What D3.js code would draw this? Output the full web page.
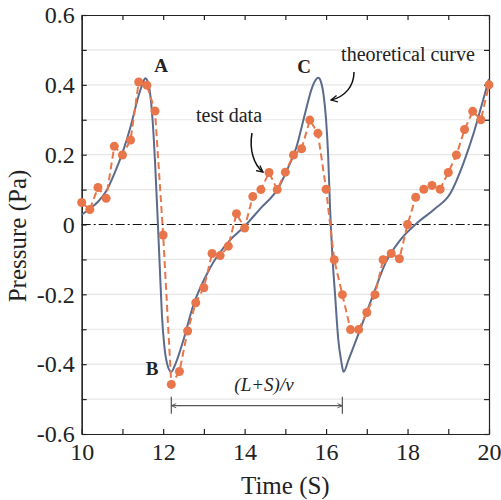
<html>
<head>
    <script src="https://cdn.jsdelivr.net/npm/d3@7"></script>
    <style>
        body { margin: 0; background: #fff; }
    </style>
</head>
<body>
    <script>
        // test data, sampled every 0.2 s
        var testTime = [10, 10.2, 10.4, 10.6, 10.8, 11, 11.2, 11.4, 11.6, 11.8,
            12, 12.2, 12.4, 12.6, 12.8, 13, 13.2, 13.4, 13.6, 13.8,
            14, 14.2, 14.4, 14.6, 14.8, 15, 15.2, 15.4, 15.6, 15.8,
            16, 16.2, 16.4, 16.6, 16.8, 17, 17.2, 17.4, 17.6, 17.8,
            18, 18.2, 18.4, 18.6, 18.8, 19, 19.2, 19.4, 19.6, 19.8, 20];
        var testPressure = [0.063, 0.043, 0.106, 0.075, 0.224, 0.199, 0.242, 0.408, 0.399, 0.325,
            -0.030, -0.458, -0.421, -0.305, -0.224, -0.181, -0.083, -0.089, -0.062, 0.031,
            -0.010, 0.080, 0.100, 0.149, 0.100, 0.150, 0.199, 0.217, 0.299, 0.261,
            0.101, -0.101, -0.201, -0.301, -0.301, -0.252, -0.201, -0.101, -0.083, -0.098,
            0.000, 0.078, 0.101, 0.112, 0.101, 0.149, 0.199, 0.272, 0.324, 0.300, 0.400];

        // theoretical curve
        var theoryTime = [10, 10.2, 10.4, 10.6, 10.8, 11, 11.2, 11.4, 11.5, 11.56, 11.62, 11.68, 11.74, 11.8, 11.86, 11.92, 11.97, 12.03, 12.1,
            12.2, 12.3, 12.5, 12.73, 13.15, 13.64, 14, 14.38, 14.83, 15.03, 15.28, 15.49, 15.65, 15.75,
            15.81, 15.87, 15.94, 16, 16.05, 16.1, 16.16, 16.22, 16.3, 16.37,
            16.43, 16.55, 16.8, 17.17, 17.46, 17.83, 18.24, 18.65, 19.06, 19.38, 19.63, 19.84, 20];
        var theoryPressure = [0.028, 0.045, 0.065, 0.095, 0.145, 0.205, 0.28, 0.37, 0.405, 0.419, 0.41, 0.375, 0.30, 0.18, 0.03, -0.13, -0.26, -0.35, -0.40,
            -0.422, -0.40, -0.33, -0.235, -0.125, -0.045, -0.005, 0.045, 0.105, 0.153, 0.225, 0.321, 0.39, 0.415,
            0.420, 0.41, 0.37, 0.30, 0.20, 0.04, -0.10, -0.2, -0.33, -0.39,
            -0.422, -0.388, -0.312, -0.197, -0.11, -0.043, 0.005, 0.043, 0.091, 0.178, 0.264, 0.35, 0.417];

        var xMajor = [10, 12, 14, 16, 18, 20];
        var xMinor = [11, 13, 15, 17, 19];
        var yMajor = [-0.6, -0.4, -0.2, 0, 0.2, 0.4, 0.6];
        var yMinor = [-0.5, -0.3, -0.1, 0.1, 0.3, 0.5];
        var yLabels = ["-0.6", "-0.4", "-0.2", "0", "0.2", "0.4", "0.6"];

        var serif = "'Liberation Serif', 'Times New Roman', serif";
        var width = 501, height = 500;
        var plotLeft = 81.7, plotRight = 489, plotTop = 15, plotBottom = 434;

        var x = d3.scaleLinear().domain([10, 20]).range([plotLeft, plotRight]);
        var y = d3.scaleLinear().domain([-0.6, 0.6]).range([plotBottom, plotTop]);

        var svg = d3.select("body").append("svg").attr("width", width).attr("height", height)
            .style("font-family", serif);

        // grid lines
        svg.append("g").selectAll("line").data(yMajor.concat(yMinor).filter(function(d) { return d !== 0 && Math.abs(d) < 0.6; }))
            .enter().append("line")
            .attr("x1", plotLeft).attr("x2", plotRight)
            .attr("y1", function(d) { return y(d); }).attr("y2", function(d) { return y(d); })
            .attr("stroke", "#e6e6e6").attr("stroke-width", 1.2);

        // zero line
        svg.append("line")
            .attr("x1", plotLeft).attr("x2", plotRight).attr("y1", y(0)).attr("y2", y(0))
            .attr("stroke", "#111").attr("stroke-width", 1).attr("stroke-dasharray", "9,3,2,3");

        // axes (ticks inward)
        function styleAxis(g) {
            g.selectAll("path").attr("stroke", "#222").attr("stroke-width", 1.2);
            g.selectAll("line").attr("stroke", "#222").attr("stroke-width", 1.2);
            g.selectAll("text").attr("fill", "#222").attr("font-size", 24).attr("font-family", serif);
        }
        svg.append("g").attr("transform", "translate(0," + plotBottom + ")")
            .call(d3.axisBottom(x).tickValues(xMajor).tickFormat(d3.format("d")).tickSizeInner(-5).tickSizeOuter(0).tickPadding(9))
            .call(styleAxis);
        svg.append("g").attr("transform", "translate(0," + plotTop + ")")
            .call(d3.axisTop(x).tickValues(xMajor.concat(xMinor)).tickFormat("").tickSizeInner(-5).tickSizeOuter(0))
            .call(styleAxis);
        svg.append("g").attr("transform", "translate(0," + plotBottom + ")")
            .call(d3.axisBottom(x).tickValues(xMinor).tickFormat("").tickSizeInner(-5).tickSizeOuter(0))
            .call(styleAxis);
        svg.append("g").attr("transform", "translate(" + plotLeft + ",0)")
            .call(d3.axisLeft(y).tickValues(yMajor).tickFormat(function(d, i) { return yLabels[i]; }).tickSizeInner(-5).tickSizeOuter(0).tickPadding(7))
            .call(styleAxis);
        svg.append("g").attr("transform", "translate(" + plotLeft + ",0)")
            .call(d3.axisLeft(y).tickValues(yMinor).tickFormat("").tickSizeInner(-5).tickSizeOuter(0))
            .call(styleAxis);
        svg.append("g").attr("transform", "translate(" + plotRight + ",0)")
            .call(d3.axisRight(y).tickValues(yMajor.concat(yMinor)).tickFormat("").tickSizeInner(-5).tickSizeOuter(0))
            .call(styleAxis);

        // theoretical curve
        var theory = theoryTime.map(function(t, i) { return [t, theoryPressure[i]]; });
        svg.append("path").datum(theory)
            .attr("d", d3.line().x(function(d) { return x(d[0]); }).y(function(d) { return y(d[1]); }).curve(d3.curveMonotoneX))
            .attr("fill", "none").attr("stroke", "#5b6b8c").attr("stroke-width", 2);

        // test data
        var test = testTime.map(function(t, i) { return [t, testPressure[i]]; });
        svg.append("path").datum(test)
            .attr("d", d3.line().x(function(d) { return x(d[0]); }).y(function(d) { return y(d[1]); }))
            .attr("fill", "none").attr("stroke", "#e8764a").attr("stroke-width", 2).attr("stroke-dasharray", "7,4");
        svg.append("g").selectAll("circle").data(test).enter().append("circle")
            .attr("cx", function(d) { return x(d[0]); })
            .attr("cy", function(d) { return y(d[1]); })
            .attr("r", 4.5).attr("fill", "#e8764a");

        // arrow markers
        var defs = svg.append("defs");
        defs.append("marker").attr("id", "head").attr("viewBox", "0 0 10 10").attr("refX", 9).attr("refY", 5)
            .attr("markerWidth", 8).attr("markerHeight", 8).attr("orient", "auto-start-reverse").attr("markerUnits", "userSpaceOnUse")
            .append("path").attr("d", "M1,1 L9,5 L1,9").attr("fill", "none").attr("stroke", "#111").attr("stroke-width", 1.6);
        defs.append("marker").attr("id", "dim").attr("viewBox", "0 0 10 10").attr("refX", 9).attr("refY", 5)
            .attr("markerWidth", 7).attr("markerHeight", 7).attr("orient", "auto-start-reverse").attr("markerUnits", "userSpaceOnUse")
            .append("path").attr("d", "M2,2 L9,5 L2,8").attr("fill", "none").attr("stroke", "#555").attr("stroke-width", 1.3);

        // annotation arrows
        svg.append("path").attr("d", "M354,72 C354,86 345,97 331,100")
            .attr("fill", "none").attr("stroke", "#111").attr("stroke-width", 1.5).attr("marker-end", "url(#head)");
        svg.append("path").attr("d", "M252,133 C249,150 254,165 263,172")
            .attr("fill", "none").attr("stroke", "#111").attr("stroke-width", 1.5).attr("marker-end", "url(#head)");

        // (L+S)/v dimension
        var dimY = 405.7;
        svg.append("line").attr("x1", x(12.2)).attr("x2", x(16.4)).attr("y1", dimY).attr("y2", dimY)
            .attr("stroke", "#555").attr("stroke-width", 1.2)
            .attr("marker-start", "url(#dim)").attr("marker-end", "url(#dim)");
        [12.2, 16.4].forEach(function(t) {
            svg.append("line").attr("x1", x(t)).attr("x2", x(t)).attr("y1", dimY - 9).attr("y2", dimY + 8)
                .attr("stroke", "#555").attr("stroke-width", 1.2);
        });
        svg.append("text").attr("x", 264).attr("y", 391).attr("text-anchor", "middle")
            .attr("font-family", serif).attr("font-size", 19).attr("font-style", "italic").attr("fill", "#222").text("(L+S)/v");

        // labels
        svg.append("text").attr("x", 161).attr("y", 72).attr("text-anchor", "middle")
            .attr("font-family", serif).attr("font-size", 19).attr("font-weight", "bold").attr("fill", "#222").text("A");
        svg.append("text").attr("x", 152).attr("y", 375).attr("text-anchor", "middle")
            .attr("font-family", serif).attr("font-size", 19).attr("font-weight", "bold").attr("fill", "#222").text("B");
        svg.append("text").attr("x", 304).attr("y", 73).attr("text-anchor", "middle")
            .attr("font-family", serif).attr("font-size", 19).attr("font-weight", "bold").attr("fill", "#222").text("C");
        svg.append("text").attr("x", 408).attr("y", 61).attr("text-anchor", "middle")
            .attr("font-family", serif).attr("font-size", 20).attr("fill", "#222").text("theoretical curve");
        svg.append("text").attr("x", 229).attr("y", 122).attr("text-anchor", "middle")
            .attr("font-family", serif).attr("font-size", 20).attr("fill", "#222").text("test data");

        // axis titles
        svg.append("text").attr("x", (plotLeft + plotRight) / 2).attr("y", 494).attr("text-anchor", "middle")
            .attr("font-family", serif).attr("font-size", 25).attr("fill", "#222").text("Time (S)");
        svg.append("text").attr("transform", "translate(26," + 236 + ") rotate(-90)").attr("text-anchor", "middle")
            .attr("font-family", serif).attr("font-size", 25).attr("fill", "#222").text("Pressure (Pa)");
    </script>
</body>
</html>
